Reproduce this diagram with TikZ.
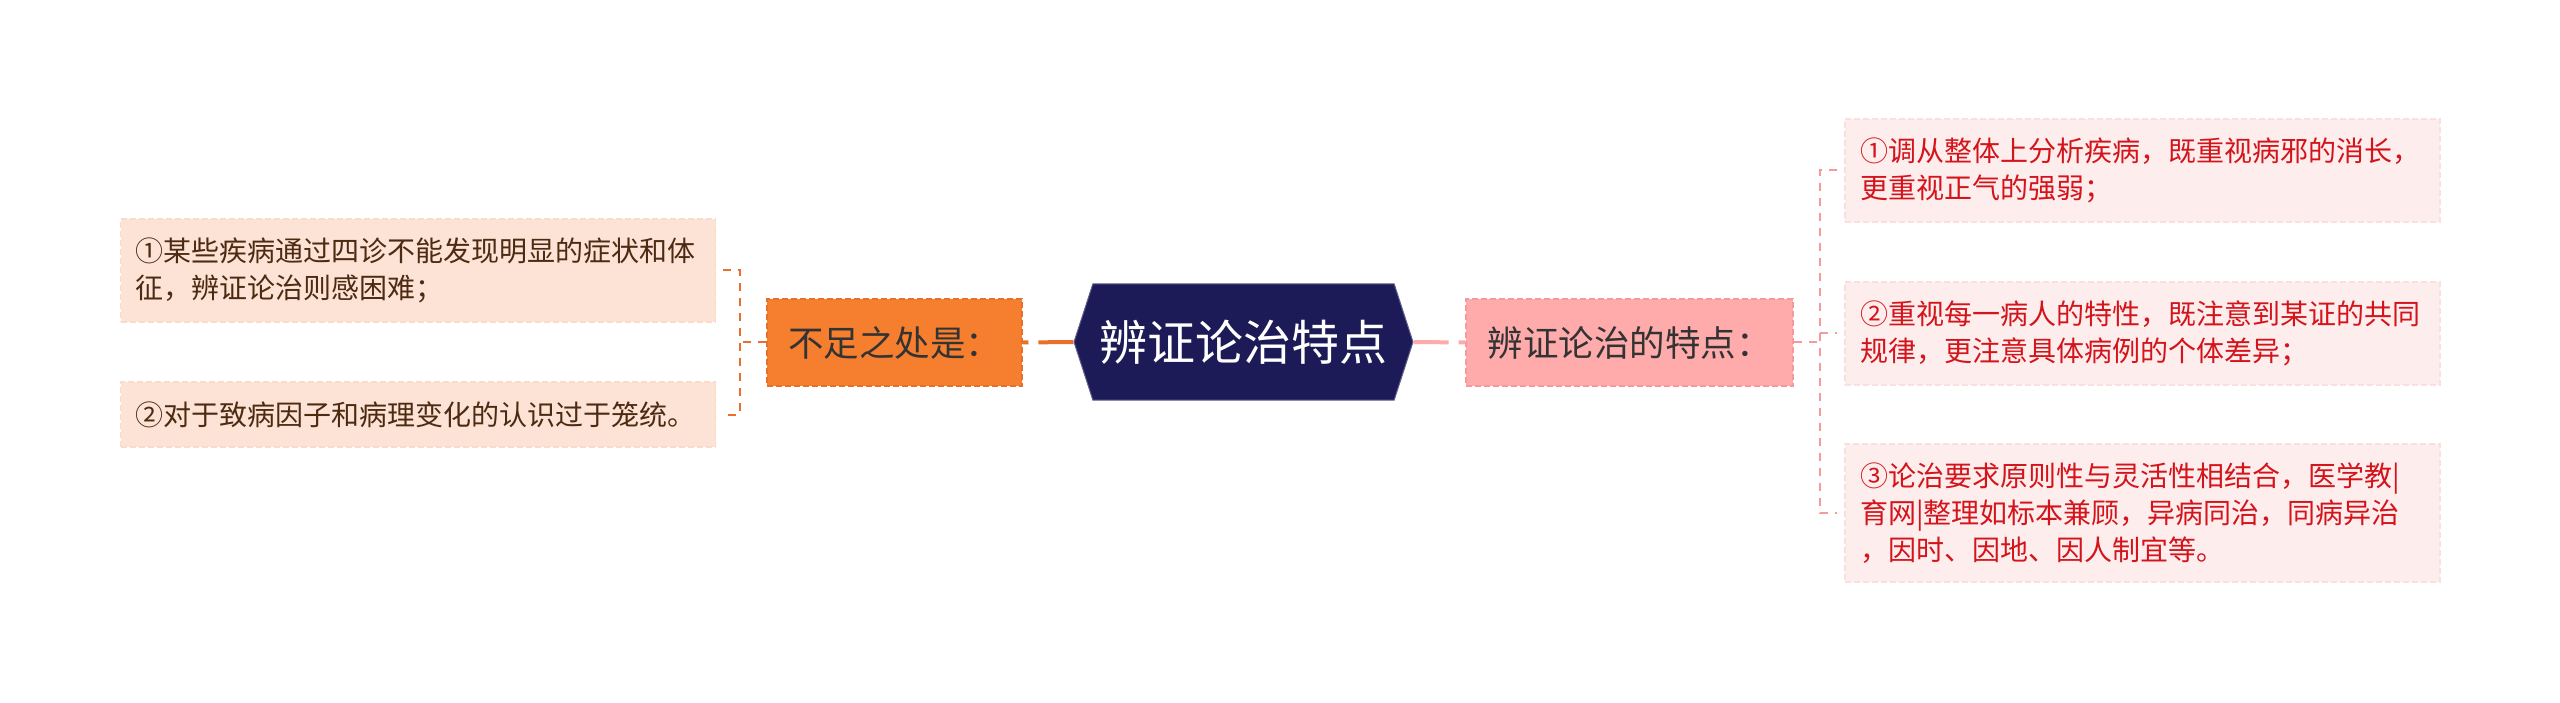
\documentclass[tikz,border=0pt]{standalone}
\usepackage{fontspec}
\setmainfont{Noto Sans CJK SC}
\usepackage{xcolor}
\usepackage{tikz}
\usetikzlibrary{shapes.symbols, calc}

\definecolor{rootblue}{HTML}{1C1B57}
\definecolor{lackfill}{HTML}{F67F2F}
\definecolor{lackline}{HTML}{E8702A}
\definecolor{lackleaf}{HTML}{FDE3D5}
\definecolor{lackleafline}{HTML}{F9DACB}
\definecolor{lacktext}{HTML}{4D2A12}
\definecolor{featfill}{HTML}{FFABAB}
\definecolor{featline}{HTML}{F59A9C}
\definecolor{featleaf}{HTML}{FDEDED}
\definecolor{featleafline}{HTML}{F9E0E0}
\definecolor{feattext}{HTML}{D4141B}

\begin{document}
\begin{tikzpicture}[x=1pt, y=-1pt,
	rootnode/.style={shape=signal, signal to=west and east, signal pointer angle=144,
		fill=rootblue, draw=rootblue!70!white, line width=1pt, text=white,
		minimum width=339pt, minimum height=116pt, inner sep=0pt,
		font=\fontsize{48}{54}\selectfont},
	midbox/.style={rectangle, dashed, dash pattern=on 6pt off 3pt, line width=1.5pt,
		minimum width=#1, minimum height=87pt, inner sep=0pt, text=black!80,
		font=\fontsize{35.5}{42}\selectfont},
	leafbox/.style={rectangle, dashed, dash pattern=on 6pt off 3pt, line width=1.2pt,
		text width=565pt, align=left, inner xsep=15pt, inner ysep=0pt,
		minimum height=#1, font=\fontsize{28}{37}\selectfont},
	trunk/.style={line width=4pt, dash pattern=on 35pt off 10pt},
	branch/.style={line width=2pt, dash pattern=on 8pt off 7pt}]
				% Canvas
				\fill[white] (0,0) rectangle (2560,703);
				\useasboundingbox (0,0) rectangle (2560,703);
				
				% Center node
				\node[rootnode] (root) at (1243.5,342) {辨证论治特点};
				
				% Left part
				\node[midbox=255pt, fill=lackfill, draw=lackline] (lack) at (894.5,342.5) {不足之处是：};
				\node[leafbox=103pt, fill=lackleaf, draw=lackleafline, text=lacktext] (lackA) at (418,270.5)
					{①某些疾病通过四诊不能发现明显的症状和体\\征，辨证论治则感困难；};
				\node[leafbox=65pt, fill=lackleaf, draw=lackleafline, text=lacktext] (lackB) at (418,414.5)
					{②对于致病因子和病理变化的认识过于笼统。};
				
				% Right part
				\node[midbox=327pt, fill=featfill, draw=featline] (feat) at (1629.5,342.5) {辨证论治的特点：};
				\node[leafbox=103pt, fill=featleaf, draw=featleafline, text=feattext] (featA) at (2142.5,170.5)
					{①调从整体上分析疾病，既重视病邪的消长，\\更重视正气的强弱；};
				\node[leafbox=103pt, fill=featleaf, draw=featleafline, text=feattext] (featB) at (2142.5,333.5)
					{②重视每一病人的特性，既注意到某证的共同\\规律，更注意具体病例的个体差异；};
				\node[leafbox=138pt, fill=featleaf, draw=featleafline, text=feattext] (featC) at (2142.5,513)
					{③论治要求原则性与灵活性相结合，医学教|\\育网|整理如标本兼顾，异病同治，同病异治\\，因时、因地、因人制宜等。};
				
				% Trunk lines
				\draw[trunk, lackline] (root.west) -- (lack.east);
				\draw[trunk, featfill] (root.east) -- (feat.west);
				
				% Left bracket
				\draw[branch, lackline] (lack.west) -- ++(-26,0) coordinate (lj);
				\draw[branch, lackline] ([xshift=7pt]lackA.east) -- (lj |- lackA.east) -- (lj |- lackB.east) -- ([xshift=7pt]lackB.east);
				
				% Right bracket
				\draw[branch, featline] (feat.east) -- ++(26,0) coordinate (rj);
				\draw[branch, featline] ([xshift=-7pt]featA.west) -- (rj |- featA.west) -- (rj |- featC.west) -- ([xshift=-7pt]featC.west);
				\draw[branch, featline] (rj |- featB.west) -- ([xshift=-7pt]featB.west);
			\end{tikzpicture}
\end{document}
